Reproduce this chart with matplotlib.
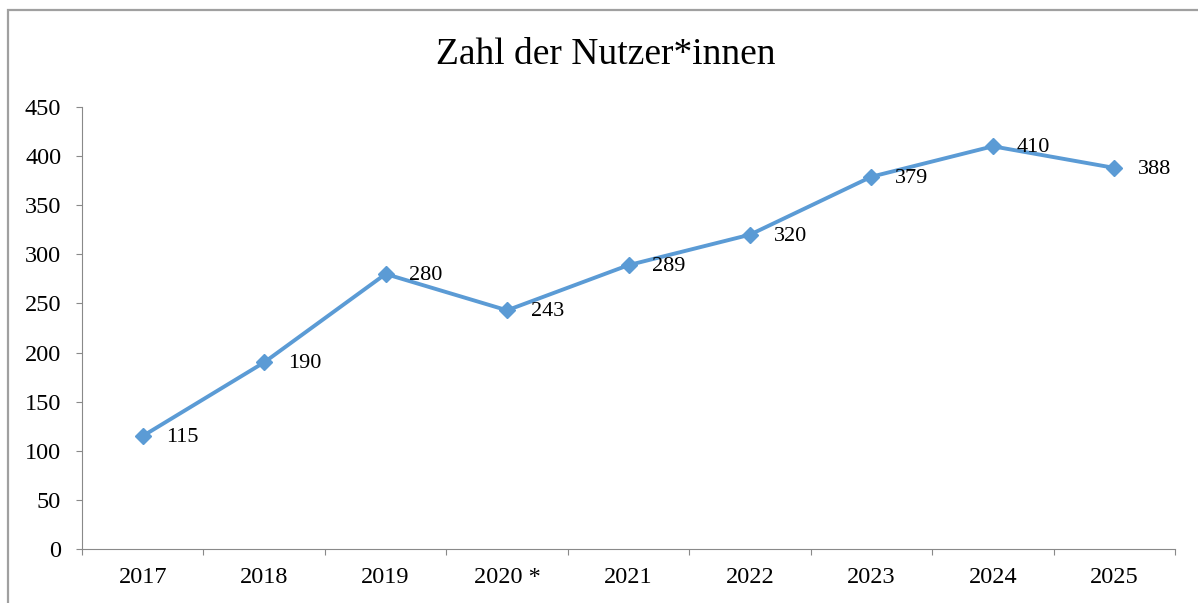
import matplotlib.pyplot as plt
from matplotlib.patches import Rectangle
import numpy as np

# Daten
jahre = ["2017", "2018", "2019", "2020 *", "2021", "2022", "2023", "2024", "2025"]
nutzer = [115, 190, 280, 243, 289, 320, 379, 410, 388]

plt.rcParams['font.family'] = ['Liberation Serif', 'DejaVu Serif']

fig = plt.figure(figsize=(11.98, 6.03), dpi=100)
ax = fig.add_axes([82 / 1198, 1 - 549 / 603, (1175 - 82) / 1198, (549 - 107) / 603])

# Rahmen um das Diagramm (rechts und unten abgeschnitten)
rahmen = Rectangle((8 / 1198, -0.05), 1.2, 1 - 10 / 603 + 0.05, transform=fig.transFigure,
                   fill=False, edgecolor="#a0a0a0", linewidth=1.6, clip_on=False)
fig.patches.append(rahmen)

x = np.arange(len(jahre))
ax.plot(x, nutzer, color="#5b9bd5", linewidth=2.8, marker="D", markersize=8,
        markeredgecolor="#5b9bd5", zorder=3)

for xi, wert in zip(x, nutzer):
    ax.annotate(str(wert), (xi, wert), xytext=(17, -1), textcoords="offset points",
                ha="left", va="center", fontsize=16, color="black")

ax.set_xlim(-0.5, len(jahre) - 0.5)
ax.set_ylim(0, 450)
ax.set_yticks(np.arange(0, 451, 50))

# Striche zwischen den Kategorien, Beschriftung in der Mitte
ax.set_xticks(np.arange(-0.5, len(jahre), 1.0))
ax.set_xticklabels([])
ax.set_xticks(x, minor=True)
ax.set_xticklabels(jahre, minor=True)
ax.tick_params(axis="x", which="major", length=4, width=0.8, color="#898989", direction="out")
ax.tick_params(axis="x", which="minor", length=0, pad=13, labelsize=17.5)
ax.tick_params(axis="y", length=4, width=0.8, color="#898989", pad=11, labelsize=17.5)

for s in ["top", "right"]:
    ax.spines[s].set_visible(False)
for s in ["left", "bottom"]:
    ax.spines[s].set_color("#898989")
    ax.spines[s].set_linewidth(0.8)

fig.text(606 / 1198, 1 - 55 / 603, "Zahl der Nutzer*innen", ha="center", va="center", fontsize=27)

fig.savefig("out.png", dpi=100)
